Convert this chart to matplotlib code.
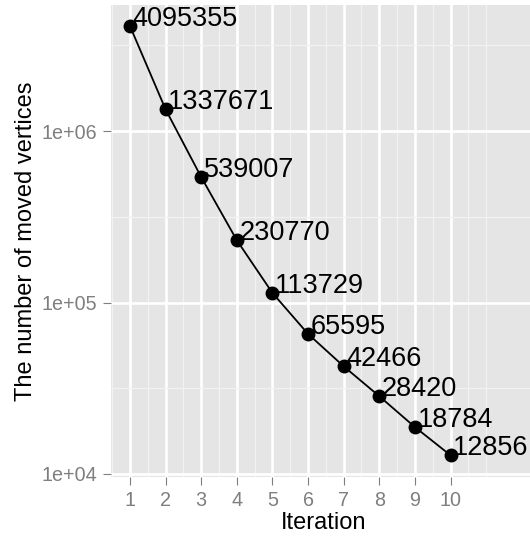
import numpy as np
import matplotlib
matplotlib.use("Agg")
import matplotlib.pyplot as plt
from matplotlib.ticker import FixedLocator, NullFormatter

# data
iterations = [1, 2, 3, 4, 5, 6, 7, 8, 9, 10]
moved = [4095355, 1337671, 539007, 230770, 113729, 65595, 42466, 28420, 18784, 12856]
y_breaks = [1e4, 1e5, 1e6]
y_labels = ["1e+04", "1e+05", "1e+06"]

plt.rcParams['font.family'] = ['Liberation Sans', 'DejaVu Sans']

fig = plt.figure(figsize=(5.3, 5.39), dpi=100)
ax = fig.add_axes([110.7 / 530, 62 / 539, (536 - 110.7) / 530, 472 / 539])
ax.set_facecolor('#E5E5E5')

ax.plot(iterations, moved, color='black', lw=1.3, zorder=3)
ax.plot(iterations, moved, 'o', color='black', ms=9, zorder=4)
for x, y in zip(iterations, moved):
    ax.text(x + 0.07, y, str(y), ha='left', va='baseline', fontsize=19.5, zorder=5)

ax.set_yscale('log')
ax.set_xlim(0.458, 12.40)
ax.set_ylim(10 ** 3.9825, 10 ** 6.7356)

ax.set_xticks(iterations)
ax.set_xticklabels([str(i) for i in iterations])
ax.xaxis.set_minor_locator(FixedLocator(list(np.arange(0.5, 11, 1.0)) + [11]))
ax.set_yticks(y_breaks)
ax.set_yticklabels(y_labels)
ax.yaxis.set_minor_locator(FixedLocator([10 ** 4.5, 10 ** 5.5, 10 ** 6.5]))
ax.yaxis.set_minor_formatter(NullFormatter())

ax.grid(which='major', color='white', lw=1.9)
ax.grid(which='minor', color='#F2F2F2', lw=0.9)
ax.set_axisbelow(True)
for s in ax.spines.values():
    s.set_visible(False)

ax.tick_params(which='major', length=5.8, width=0.8, color='#7F7F7F',
               labelcolor='#7F7F7F', labelsize=14.2)
ax.tick_params(axis='x', pad=4.5)
ax.tick_params(axis='y', pad=4)
ax.tick_params(which='minor', length=0)

ax.set_xlabel('Iteration', fontsize=17, labelpad=1.5)
ax.set_ylabel('The number of moved vertices', fontsize=17, labelpad=3)

fig.savefig('out.png', dpi=100)
